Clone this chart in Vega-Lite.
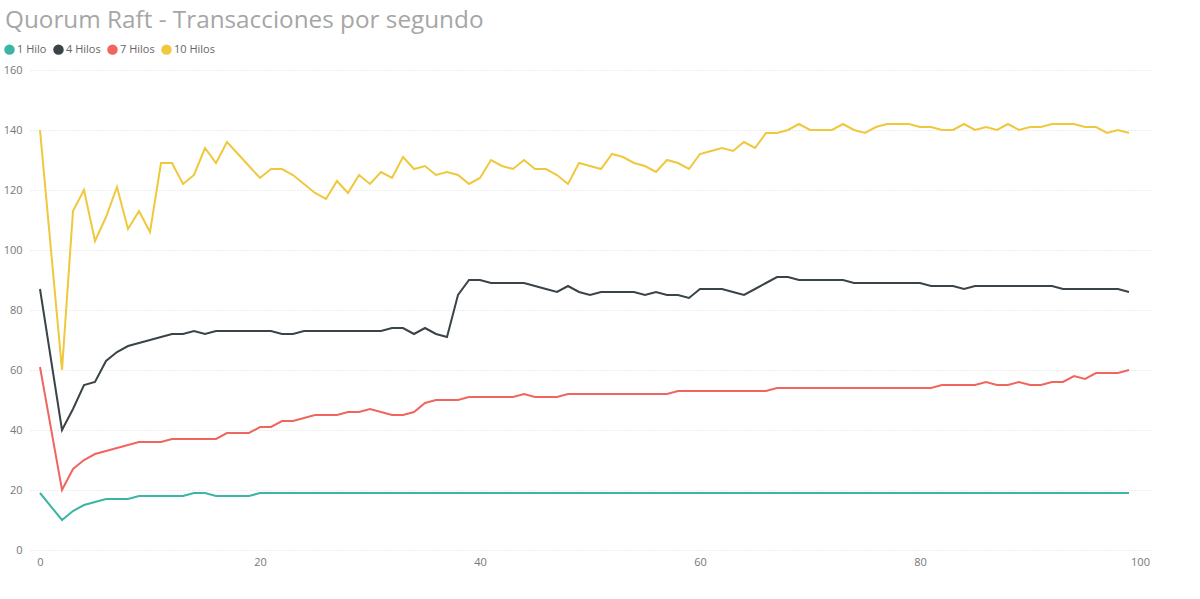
{
  "$schema": "https://vega.github.io/schema/vega-lite/v6.json",
  "width": 1120,
  "height": 480,
  "autosize": {"type": "none"},
  "padding": {"left": 30, "top": 70, "right": 50, "bottom": 49},
  "background": "white",
  "title": {
    "text": "Quorum Raft - Transacciones por segundo",
    "anchor": "start",
    "frame": "group",
    "dx": -25,
    "offset": 11,
    "font": "Open Sans",
    "fontSize": 24.3,
    "fontWeight": "normal",
    "color": "#a6a6a6"
  },
  "config": {
    "view": {"stroke": null},
    "font": "Open Sans"
  },
  "data": {
    "values": [
      {"x": 0, "1 Hilo": 19, "4 Hilos": 87, "7 Hilos": 61, "10 Hilos": 140},
      {"x": 2, "1 Hilo": 10, "4 Hilos": 40, "7 Hilos": 20, "10 Hilos": 60},
      {"x": 3, "1 Hilo": 13, "4 Hilos": 47, "7 Hilos": 27, "10 Hilos": 113},
      {"x": 4, "1 Hilo": 15, "4 Hilos": 55, "7 Hilos": 30, "10 Hilos": 120},
      {"x": 5, "1 Hilo": 16, "4 Hilos": 56, "7 Hilos": 32, "10 Hilos": 103},
      {"x": 6, "1 Hilo": 17, "4 Hilos": 63, "7 Hilos": 33, "10 Hilos": 111},
      {"x": 7, "1 Hilo": 17, "4 Hilos": 66, "7 Hilos": 34, "10 Hilos": 121},
      {"x": 8, "1 Hilo": 17, "4 Hilos": 68, "7 Hilos": 35, "10 Hilos": 107},
      {"x": 9, "1 Hilo": 18, "4 Hilos": 69, "7 Hilos": 36, "10 Hilos": 113},
      {"x": 10, "1 Hilo": 18, "4 Hilos": 70, "7 Hilos": 36, "10 Hilos": 106},
      {"x": 11, "1 Hilo": 18, "4 Hilos": 71, "7 Hilos": 36, "10 Hilos": 129},
      {"x": 12, "1 Hilo": 18, "4 Hilos": 72, "7 Hilos": 37, "10 Hilos": 129},
      {"x": 13, "1 Hilo": 18, "4 Hilos": 72, "7 Hilos": 37, "10 Hilos": 122},
      {"x": 14, "1 Hilo": 19, "4 Hilos": 73, "7 Hilos": 37, "10 Hilos": 125},
      {"x": 15, "1 Hilo": 19, "4 Hilos": 72, "7 Hilos": 37, "10 Hilos": 134},
      {"x": 16, "1 Hilo": 18, "4 Hilos": 73, "7 Hilos": 37, "10 Hilos": 129},
      {"x": 17, "1 Hilo": 18, "4 Hilos": 73, "7 Hilos": 39, "10 Hilos": 136},
      {"x": 18, "1 Hilo": 18, "4 Hilos": 73, "7 Hilos": 39, "10 Hilos": 132},
      {"x": 19, "1 Hilo": 18, "4 Hilos": 73, "7 Hilos": 39, "10 Hilos": 128},
      {"x": 20, "1 Hilo": 19, "4 Hilos": 73, "7 Hilos": 41, "10 Hilos": 124},
      {"x": 21, "1 Hilo": 19, "4 Hilos": 73, "7 Hilos": 41, "10 Hilos": 127},
      {"x": 22, "1 Hilo": 19, "4 Hilos": 72, "7 Hilos": 43, "10 Hilos": 127},
      {"x": 23, "1 Hilo": 19, "4 Hilos": 72, "7 Hilos": 43, "10 Hilos": 125},
      {"x": 24, "1 Hilo": 19, "4 Hilos": 73, "7 Hilos": 44, "10 Hilos": 122},
      {"x": 25, "1 Hilo": 19, "4 Hilos": 73, "7 Hilos": 45, "10 Hilos": 119},
      {"x": 26, "1 Hilo": 19, "4 Hilos": 73, "7 Hilos": 45, "10 Hilos": 117},
      {"x": 27, "1 Hilo": 19, "4 Hilos": 73, "7 Hilos": 45, "10 Hilos": 123},
      {"x": 28, "1 Hilo": 19, "4 Hilos": 73, "7 Hilos": 46, "10 Hilos": 119},
      {"x": 29, "1 Hilo": 19, "4 Hilos": 73, "7 Hilos": 46, "10 Hilos": 125},
      {"x": 30, "1 Hilo": 19, "4 Hilos": 73, "7 Hilos": 47, "10 Hilos": 122},
      {"x": 31, "1 Hilo": 19, "4 Hilos": 73, "7 Hilos": 46, "10 Hilos": 126},
      {"x": 32, "1 Hilo": 19, "4 Hilos": 74, "7 Hilos": 45, "10 Hilos": 124},
      {"x": 33, "1 Hilo": 19, "4 Hilos": 74, "7 Hilos": 45, "10 Hilos": 131},
      {"x": 34, "1 Hilo": 19, "4 Hilos": 72, "7 Hilos": 46, "10 Hilos": 127},
      {"x": 35, "1 Hilo": 19, "4 Hilos": 74, "7 Hilos": 49, "10 Hilos": 128},
      {"x": 36, "1 Hilo": 19, "4 Hilos": 72, "7 Hilos": 50, "10 Hilos": 125},
      {"x": 37, "1 Hilo": 19, "4 Hilos": 71, "7 Hilos": 50, "10 Hilos": 126},
      {"x": 38, "1 Hilo": 19, "4 Hilos": 85, "7 Hilos": 50, "10 Hilos": 125},
      {"x": 39, "1 Hilo": 19, "4 Hilos": 90, "7 Hilos": 51, "10 Hilos": 122},
      {"x": 40, "1 Hilo": 19, "4 Hilos": 90, "7 Hilos": 51, "10 Hilos": 124},
      {"x": 41, "1 Hilo": 19, "4 Hilos": 89, "7 Hilos": 51, "10 Hilos": 130},
      {"x": 42, "1 Hilo": 19, "4 Hilos": 89, "7 Hilos": 51, "10 Hilos": 128},
      {"x": 43, "1 Hilo": 19, "4 Hilos": 89, "7 Hilos": 51, "10 Hilos": 127},
      {"x": 44, "1 Hilo": 19, "4 Hilos": 89, "7 Hilos": 52, "10 Hilos": 130},
      {"x": 45, "1 Hilo": 19, "4 Hilos": 88, "7 Hilos": 51, "10 Hilos": 127},
      {"x": 46, "1 Hilo": 19, "4 Hilos": 87, "7 Hilos": 51, "10 Hilos": 127},
      {"x": 47, "1 Hilo": 19, "4 Hilos": 86, "7 Hilos": 51, "10 Hilos": 125},
      {"x": 48, "1 Hilo": 19, "4 Hilos": 88, "7 Hilos": 52, "10 Hilos": 122},
      {"x": 49, "1 Hilo": 19, "4 Hilos": 86, "7 Hilos": 52, "10 Hilos": 129},
      {"x": 50, "1 Hilo": 19, "4 Hilos": 85, "7 Hilos": 52, "10 Hilos": 128},
      {"x": 51, "1 Hilo": 19, "4 Hilos": 86, "7 Hilos": 52, "10 Hilos": 127},
      {"x": 52, "1 Hilo": 19, "4 Hilos": 86, "7 Hilos": 52, "10 Hilos": 132},
      {"x": 53, "1 Hilo": 19, "4 Hilos": 86, "7 Hilos": 52, "10 Hilos": 131},
      {"x": 54, "1 Hilo": 19, "4 Hilos": 86, "7 Hilos": 52, "10 Hilos": 129},
      {"x": 55, "1 Hilo": 19, "4 Hilos": 85, "7 Hilos": 52, "10 Hilos": 128},
      {"x": 56, "1 Hilo": 19, "4 Hilos": 86, "7 Hilos": 52, "10 Hilos": 126},
      {"x": 57, "1 Hilo": 19, "4 Hilos": 85, "7 Hilos": 52, "10 Hilos": 130},
      {"x": 58, "1 Hilo": 19, "4 Hilos": 85, "7 Hilos": 53, "10 Hilos": 129},
      {"x": 59, "1 Hilo": 19, "4 Hilos": 84, "7 Hilos": 53, "10 Hilos": 127},
      {"x": 60, "1 Hilo": 19, "4 Hilos": 87, "7 Hilos": 53, "10 Hilos": 132},
      {"x": 61, "1 Hilo": 19, "4 Hilos": 87, "7 Hilos": 53, "10 Hilos": 133},
      {"x": 62, "1 Hilo": 19, "4 Hilos": 87, "7 Hilos": 53, "10 Hilos": 134},
      {"x": 63, "1 Hilo": 19, "4 Hilos": 86, "7 Hilos": 53, "10 Hilos": 133},
      {"x": 64, "1 Hilo": 19, "4 Hilos": 85, "7 Hilos": 53, "10 Hilos": 136},
      {"x": 65, "1 Hilo": 19, "4 Hilos": 87, "7 Hilos": 53, "10 Hilos": 134},
      {"x": 66, "1 Hilo": 19, "4 Hilos": 89, "7 Hilos": 53, "10 Hilos": 139},
      {"x": 67, "1 Hilo": 19, "4 Hilos": 91, "7 Hilos": 54, "10 Hilos": 139},
      {"x": 68, "1 Hilo": 19, "4 Hilos": 91, "7 Hilos": 54, "10 Hilos": 140},
      {"x": 69, "1 Hilo": 19, "4 Hilos": 90, "7 Hilos": 54, "10 Hilos": 142},
      {"x": 70, "1 Hilo": 19, "4 Hilos": 90, "7 Hilos": 54, "10 Hilos": 140},
      {"x": 71, "1 Hilo": 19, "4 Hilos": 90, "7 Hilos": 54, "10 Hilos": 140},
      {"x": 72, "1 Hilo": 19, "4 Hilos": 90, "7 Hilos": 54, "10 Hilos": 140},
      {"x": 73, "1 Hilo": 19, "4 Hilos": 90, "7 Hilos": 54, "10 Hilos": 142},
      {"x": 74, "1 Hilo": 19, "4 Hilos": 89, "7 Hilos": 54, "10 Hilos": 140},
      {"x": 75, "1 Hilo": 19, "4 Hilos": 89, "7 Hilos": 54, "10 Hilos": 139},
      {"x": 76, "1 Hilo": 19, "4 Hilos": 89, "7 Hilos": 54, "10 Hilos": 141},
      {"x": 77, "1 Hilo": 19, "4 Hilos": 89, "7 Hilos": 54, "10 Hilos": 142},
      {"x": 78, "1 Hilo": 19, "4 Hilos": 89, "7 Hilos": 54, "10 Hilos": 142},
      {"x": 79, "1 Hilo": 19, "4 Hilos": 89, "7 Hilos": 54, "10 Hilos": 142},
      {"x": 80, "1 Hilo": 19, "4 Hilos": 89, "7 Hilos": 54, "10 Hilos": 141},
      {"x": 81, "1 Hilo": 19, "4 Hilos": 88, "7 Hilos": 54, "10 Hilos": 141},
      {"x": 82, "1 Hilo": 19, "4 Hilos": 88, "7 Hilos": 55, "10 Hilos": 140},
      {"x": 83, "1 Hilo": 19, "4 Hilos": 88, "7 Hilos": 55, "10 Hilos": 140},
      {"x": 84, "1 Hilo": 19, "4 Hilos": 87, "7 Hilos": 55, "10 Hilos": 142},
      {"x": 85, "1 Hilo": 19, "4 Hilos": 88, "7 Hilos": 55, "10 Hilos": 140},
      {"x": 86, "1 Hilo": 19, "4 Hilos": 88, "7 Hilos": 56, "10 Hilos": 141},
      {"x": 87, "1 Hilo": 19, "4 Hilos": 88, "7 Hilos": 55, "10 Hilos": 140},
      {"x": 88, "1 Hilo": 19, "4 Hilos": 88, "7 Hilos": 55, "10 Hilos": 142},
      {"x": 89, "1 Hilo": 19, "4 Hilos": 88, "7 Hilos": 56, "10 Hilos": 140},
      {"x": 90, "1 Hilo": 19, "4 Hilos": 88, "7 Hilos": 55, "10 Hilos": 141},
      {"x": 91, "1 Hilo": 19, "4 Hilos": 88, "7 Hilos": 55, "10 Hilos": 141},
      {"x": 92, "1 Hilo": 19, "4 Hilos": 88, "7 Hilos": 56, "10 Hilos": 142},
      {"x": 93, "1 Hilo": 19, "4 Hilos": 87, "7 Hilos": 56, "10 Hilos": 142},
      {"x": 94, "1 Hilo": 19, "4 Hilos": 87, "7 Hilos": 58, "10 Hilos": 142},
      {"x": 95, "1 Hilo": 19, "4 Hilos": 87, "7 Hilos": 57, "10 Hilos": 141},
      {"x": 96, "1 Hilo": 19, "4 Hilos": 87, "7 Hilos": 59, "10 Hilos": 141},
      {"x": 97, "1 Hilo": 19, "4 Hilos": 87, "7 Hilos": 59, "10 Hilos": 139},
      {"x": 98, "1 Hilo": 19, "4 Hilos": 87, "7 Hilos": 59, "10 Hilos": 140},
      {"x": 99, "1 Hilo": 19, "4 Hilos": 86, "7 Hilos": 60, "10 Hilos": 139}
    ]
  },
  "transform": [
    {"fold": ["1 Hilo", "4 Hilos", "7 Hilos", "10 Hilos"], "as": ["serie", "tps"]}
  ],
  "mark": {"type": "line", "strokeWidth": 2, "interpolate": "linear"},
  "encoding": {
    "x": {
      "field": "x",
      "type": "quantitative",
      "scale": {"domain": [-0.909, 100.909], "nice": false, "zero": false},
      "axis": {
        "title": null,
        "values": [0, 20, 40, 60, 80, 100],
        "grid": false,
        "domain": false,
        "ticks": false,
        "labelPadding": 6,
        "labelFontSize": 11,
        "labelColor": "#777777",
        "labelFont": "Open Sans"
      }
    },
    "y": {
      "field": "tps",
      "type": "quantitative",
      "scale": {"domain": [0, 160], "nice": false},
      "axis": {
        "title": null,
        "values": [0, 20, 40, 60, 80, 100, 120, 140, 160],
        "domain": false,
        "ticks": false,
        "labelPadding": 8,
        "labelFontSize": 11,
        "labelColor": "#777777",
        "labelFont": "Open Sans",
        "gridColor": "#dddddd",
        "gridDash": [1, 2],
        "gridWidth": 1
      }
    },
    "color": {
      "field": "serie",
      "type": "nominal",
      "sort": ["1 Hilo", "4 Hilos", "7 Hilos", "10 Hilos"],
      "scale": {
        "domain": ["1 Hilo", "4 Hilos", "7 Hilos", "10 Hilos"],
        "range": ["#3DB5A6", "#3A4448", "#F0665F", "#EFC83E"]
      },
      "legend": {
        "title": null,
        "orient": "none",
        "legendX": -26,
        "legendY": -26,
        "direction": "horizontal",
        "symbolType": "circle",
        "symbolSize": 110,
        "symbolStrokeWidth": 0,
        "symbolOpacity": 1,
        "labelFontSize": 11,
        "labelColor": "#666666",
        "labelFont": "Open Sans",
        "labelOffset": 2,
        "columnPadding": 6,
        "encode": {
          "symbols": {
            "update": {
              "fill": {"scale": "color", "field": "value"},
              "strokeWidth": {"value": 0}
            }
          }
        }
      }
    }
  }
}
